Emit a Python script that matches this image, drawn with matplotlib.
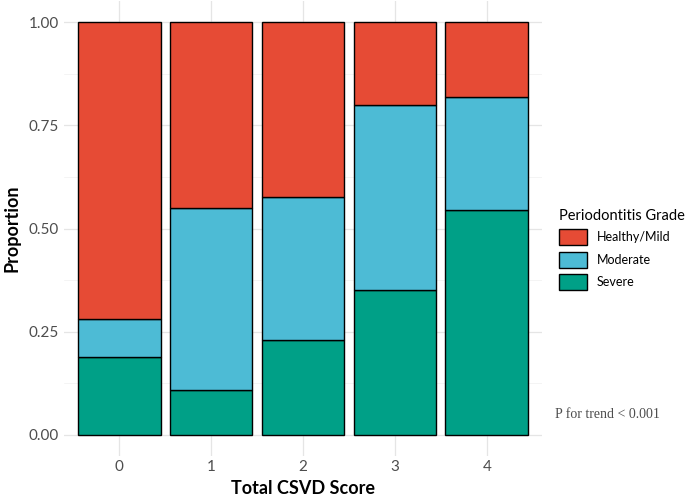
import matplotlib
matplotlib.use("Agg")
import matplotlib.pyplot as plt
import numpy as np

plt.rcParams["font.family"] = ["Lato", "DejaVu Sans"]

scores = ["0", "1", "2", "3", "4"]
severe = [0.189, 0.109, 0.230, 0.351, 0.545]
moderate = [0.092, 0.441, 0.346, 0.448, 0.273]
healthy = [1 - s - m for s, m in zip(severe, moderate)]
colors = {"Healthy/Mild": "#E64B35", "Moderate": "#4DBBD5", "Severe": "#00A087"}

fig = plt.figure(figsize=(7, 4.99), dpi=100)
ax = fig.add_axes([64/700, (499-455.6)/499, (542-64)/700, (455.6-1.4)/499])
x = np.arange(len(scores))
kw = dict(width=0.9, edgecolor="black", linewidth=1.0, zorder=3)
ax.bar(x, severe, color=colors["Severe"], label="Severe", **kw)
ax.bar(x, moderate, bottom=severe, color=colors["Moderate"], label="Moderate", **kw)
ax.bar(x, healthy, bottom=np.array(severe)+np.array(moderate), color=colors["Healthy/Mild"], label="Healthy/Mild", **kw)

ax.set_xlim(-0.6, 4.6)
ax.set_ylim(-0.05, 1.05)
ax.set_xticks(x)
ax.set_xticklabels(scores)
ax.set_yticks([0, 0.25, 0.5, 0.75, 1.0])
ax.set_yticklabels(["0.00", "0.25", "0.50", "0.75", "1.00"])
ax.set_yticks([0.125, 0.375, 0.625, 0.875], minor=True)
ax.grid(True, which="major", color="#e5e5e5", linewidth=0.9, zorder=0)
ax.grid(True, which="minor", axis="y", color="#f0f0f0", linewidth=0.5, zorder=0)
ax.tick_params(which="both", length=0, labelsize=11, colors="#4d4d4d")
for s in ax.spines.values():
    s.set_visible(False)
ax.set_xlabel("Total CSVD Score", fontsize=13, fontweight="bold", labelpad=4)
ax.set_ylabel("Proportion", fontsize=13, fontweight="bold", labelpad=6)

h, l = ax.get_legend_handles_labels()
order = [2, 1, 0]
fig.legend([h[i] for i in order], [l[i] for i in order], title="Periodontitis Grade",
           loc="center left", bbox_to_anchor=(548/700, 0.5), frameon=False,
           fontsize=9, title_fontsize=10.5, handlelength=2.2, handleheight=1.6,
           alignment="left")
fig.text(555/700, (499-415)/499, "P for trend < 0.001", fontsize=10,
         family=["Liberation Serif", "DejaVu Serif"], color="#4d4d4d", va="center")
fig.savefig("out.png", dpi=100)
